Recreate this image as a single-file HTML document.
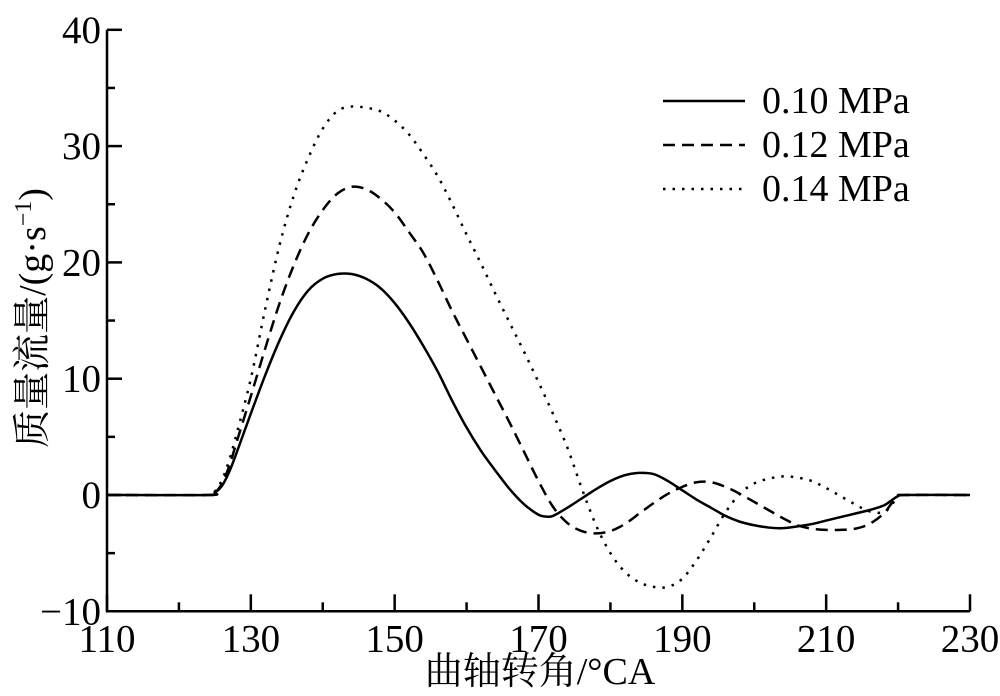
<!DOCTYPE html>
<html><head><meta charset="utf-8"><style>
body{margin:0;background:#fff}
svg{display:block}
text{font-family:"Liberation Serif","Noto Serif CJK SC",serif;fill:#000}
</style></head><body>
<svg id="chart" width="1000" height="696" viewBox="0 0 1000 696" xmlns="http://www.w3.org/2000/svg">
<g id="axes"></g>
<g id="series"></g>
<g id="legend"></g>
<text x="540" y="684" font-size="38" text-anchor="middle">曲轴转角/°CA</text>
<text transform="translate(45,318) rotate(-90)" font-size="38" text-anchor="middle">质量流量/(g·s<tspan font-size="24" dy="-14">−1</tspan><tspan dy="14">)</tspan></text>
</svg>
<script>
const xTicks=[110,130,150,170,190,210,230];
const yTicks=[-10,0,10,20,30,40];
const seriesNames=["0.10 MPa","0.12 MPa","0.14 MPa"];
const s010=[[110,0],[124,0],[125,0.2],[126,0.8],[127,2],[128,3.6],[130,7],[132,10.3],[134,13.3],[136,15.8],[138,17.6],[140,18.6],[142,19],[144,19],[146,18.6],[148,17.8],[150,16.5],[152,14.8],[154,12.8],[156,10.6],[158,8.1],[160,5.8],[162,3.8],[164,2.1],[166,0.5],[168,-0.8],[170,-1.7],[171,-1.85],[172,-1.8],[174,-1.1],[176,-0.3],[178,0.5],[180,1.2],[182,1.7],[184,1.9],[186,1.8],[188,1.2],[190,0.4],[192,-0.4],[194,-1.1],[196,-1.8],[198,-2.3],[200,-2.6],[202,-2.8],[204,-2.85],[206,-2.7],[208,-2.5],[210,-2.2],[212,-1.9],[214,-1.6],[216,-1.3],[218,-0.9],[219,-0.5],[220,-0.1],[221,0],[230,0]];
const s012=[[110,0],[124,0],[125,0.2],[126,1],[127,2.5],[128,4.5],[130,8.5],[132,12.6],[134,16.5],[136,19.8],[138,22.5],[140,24.5],[142,25.9],[144,26.5],[146,26.3],[148,25.5],[150,24.3],[152,22.6],[154,20.8],[156,18.4],[158,15.8],[160,13.4],[162,11],[164,8.6],[166,6.2],[168,3.7],[170,1.2],[172,-1.0],[174,-2.4],[176,-3.1],[178,-3.3],[180,-3.1],[182,-2.5],[184,-1.6],[186,-0.7],[188,0.1],[190,0.7],[192,1.1],[194,1.1],[196,0.7],[198,0.1],[200,-0.6],[202,-1.3],[204,-2.0],[206,-2.6],[208,-2.9],[210,-3.0],[212,-3.0],[214,-2.9],[216,-2.5],[218,-1.6],[219,-0.8],[220,-0.1],[221,0],[230,0]];
const s014=[[110,0],[124,0],[125,0.3],[126,1.3],[127,3],[128,5.2],[130,10],[132,16],[134,21.5],[136,25.8],[138,29],[140,31.5],[142,33],[144,33.4],[146,33.3],[148,33],[150,32.2],[152,31],[154,29.3],[156,27.4],[158,25],[160,22.4],[162,19.9],[164,17.3],[166,14.8],[168,12.3],[170,9.7],[172,7.0],[174,4.1],[176,0.6],[178,-2.6],[180,-5],[182,-6.6],[184,-7.5],[186,-7.9],[188,-7.9],[190,-7.2],[192,-5.6],[194,-3.6],[196,-1.5],[198,0.1],[200,1.0],[202,1.4],[204,1.6],[206,1.5],[208,1.2],[210,0.6],[212,-0.1],[214,-0.8],[216,-1.4],[218,-1.5],[219,-0.9],[220,-0.2],[221,0],[230,0]];

const NS="http://www.w3.org/2000/svg";
const X0=107,X1=970,Y0=495,PY=11.63;
function xs(v){return X0+(v-110)*(X1-X0)/120;}
function ys(v){return Y0-v*PY;}
function mk(tag,attrs,parent){const e=document.createElementNS(NS,tag);for(const k in attrs)e.setAttribute(k,attrs[k]);parent.appendChild(e);return e;}
const axes=document.getElementById('axes');
const XB=ys(-10);
let a=mk('path',{d:`M${X0},${ys(40)}V${XB}H${X1}`,fill:'none',stroke:'#000','stroke-width':2.5},axes);


for(let v=110;v<=230;v+=10){
  const major=xTicks.includes(v);
  const t=mk('line',{x1:xs(v),x2:xs(v),y1:XB,y2:XB-(major?17:9),stroke:'#000','stroke-width':2.5},axes);
  
  
}
xTicks.forEach(v=>{
  const t=mk('text',{x:xs(v),y:XB+40,'font-size':39,'text-anchor':'middle'},axes);
  t.textContent=v;
  
  
});
for(let v=-5;v<=40;v+=5){
  const major=yTicks.includes(v);
  const t=mk('line',{x1:X0,x2:X0+(major?15:8),y1:ys(v),y2:ys(v),stroke:'#000','stroke-width':2.5},axes);
  
  
}
yTicks.forEach(v=>{
  const t=mk('text',{x:X0-6,y:ys(v)+13,'font-size':39,'text-anchor':'end'},axes);
  t.textContent=v<0?'−'+(-v):v;
  
  
});
function smooth(pts){
  const p=pts.map(q=>[xs(q[0]),ys(q[1])]);
  let d=`M${p[0][0]},${p[0][1]}`;
  for(let i=0;i<p.length-1;i++){
    const p0=p[Math.max(0,i-1)],p1=p[i],p2=p[i+1],p3=p[Math.min(p.length-1,i+2)];
    const c1=[p1[0]+(p2[0]-p0[0])/6,p1[1]+(p2[1]-p0[1])/6];
    const c2=[p2[0]-(p3[0]-p1[0])/6,p2[1]-(p3[1]-p1[1])/6];
    d+=`C${c1[0]},${c1[1]} ${c2[0]},${c2[1]} ${p2[0]},${p2[1]}`;
  }
  return d;
}
const styles=[{dash:'none'},{dash:'12 7'},{dash:'2.5 7'}];
const data=[s010,s012,s014];
const sg=document.getElementById('series');
data.forEach((s,i)=>{
  const e=mk('path',{d:smooth(s),fill:'none',stroke:'#000','stroke-width':2.5,'stroke-dasharray':styles[i].dash},sg);
  
  
});
const lg=document.getElementById('legend');
seriesNames.forEach((n,i)=>{
  const y=101+i*44;
  const l=mk('line',{x1:663,x2:745,y1:y,y2:y,stroke:'#000','stroke-width':2.5,'stroke-dasharray':styles[i].dash},lg);
  
  
  const t=mk('text',{x:762,y:y+12,'font-size':38},lg);
  t.textContent=n;
  
  
});
</script>
</body></html>
